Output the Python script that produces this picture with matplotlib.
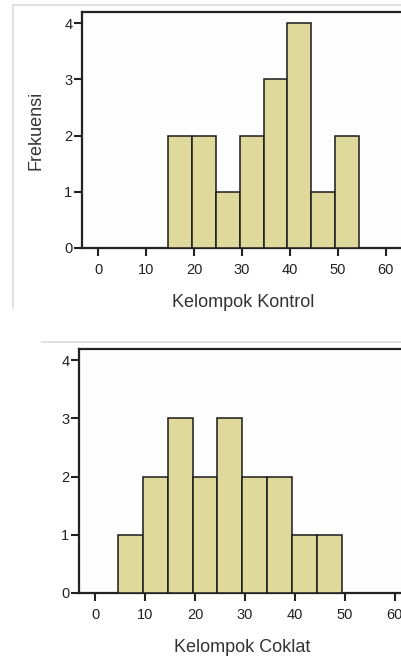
"""SPSS-style histograms: Kelompok Kontrol and Kelompok Coklat."""

import matplotlib

matplotlib.use("Agg")
import matplotlib.pyplot as plt
import numpy as np
from matplotlib.lines import Line2D

plt.rcParams["font.family"] = ["Liberation Sans", "DejaVu Sans"]

# Bin edges (lower edge of each bar) and frequencies
kontrol_edges = [14.5, 19.5, 24.5, 29.5, 34.5, 39.5, 44.5, 49.5]
kontrol_counts = [2, 2, 1, 2, 3, 4, 1, 2]
coklat_edges = [4.5, 9.5, 14.5, 19.5, 24.5, 29.5, 34.5, 39.5, 44.5]
coklat_counts = [1, 2, 3, 2, 3, 2, 2, 1, 1]
bin_width = 5
x_ticks = [0, 10, 20, 30, 40, 50, 60]
y_ticks = [0, 1, 2, 3, 4]

W, H = 401, 658
BAR_COLOR = "#dfd99c"
FRAME_GRAY = "#dcdcdc"


def px_rect(left, top, right, bottom):
    """Convert pixel box to figure-fraction [l, b, w, h]."""
    return [left / W, 1 - bottom / H, (right - left) / W, (bottom - top) / H]


def draw_hist(ax, edges, counts, xlim, ylim, xlabel, ylabel=None):
    ax.bar(edges, counts, width=bin_width, align="edge", color=BAR_COLOR,
           edgecolor="#1a1a1a", linewidth=1.1, zorder=3)
    ax.set_xlim(*xlim)
    ax.set_ylim(*ylim)
    ax.set_facecolor("#fdfdfd")
    ax.set_xticks(x_ticks)
    ax.set_yticks(y_ticks)
    ax.tick_params(axis="both", direction="out", length=6, width=1.5,
                   color="#222222", labelsize=10.5, labelcolor="#222222")
    ax.tick_params(axis="y", pad=1)
    ax.tick_params(axis="x", pad=5)
    for sp in ax.spines.values():
        sp.set_linewidth(1.6)
        sp.set_color("#222222")
    ax.set_xlabel(xlabel, fontsize=13, color="#333333", labelpad=12)
    if ylabel:
        ax.set_ylabel(ylabel, fontsize=13, color="#333333", labelpad=14)


fig = plt.figure(figsize=(W / 100, H / 100), dpi=100)

# Top panel
ax1 = fig.add_axes(px_rect(82, 12, 405, 248))
draw_hist(ax1, kontrol_edges, kontrol_counts, (-3.34, 64.0), (0, 4.2),
          "Kelompok Kontrol", "Frekuensi")

# Bottom panel
ax2 = fig.add_axes(px_rect(79, 349, 405, 593))
draw_hist(ax2, coklat_edges, coklat_counts, (-3.27, 62.1), (0, 4.19),
          "Kelompok Coklat")

# Light frame lines around the panels
fig.add_artist(Line2D([13 / W, 1], [1 - 5 / H, 1 - 5 / H], color=FRAME_GRAY, lw=1.2))
fig.add_artist(Line2D([13 / W, 13 / W], [1 - 5 / H, 1 - 308 / H], color=FRAME_GRAY, lw=1.2))
fig.add_artist(Line2D([42 / W, 1], [1 - 342 / H, 1 - 342 / H], color=FRAME_GRAY, lw=1.2))

fig.savefig("out.png", dpi=100)
